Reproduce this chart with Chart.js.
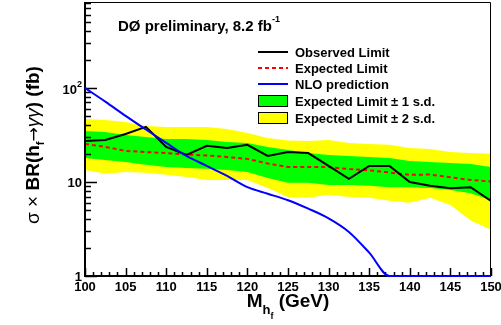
<!DOCTYPE html>
<html>
<head>
<meta charset="utf-8">
<script src="https://cdn.jsdelivr.net/npm/chart.js@4.4.1/dist/chart.umd.min.js"></script>
<style>
  html, body { margin: 0; padding: 0; background: #fff; }
  canvas { display: block; }
</style>
</head>
<body>
<canvas id="limitChart" width="501" height="325"></canvas>
<script>
// Higgs mass points (GeV)
const massPoints = [100, 102.5, 105, 107.5, 110, 112.5, 115, 117.5, 120, 122.5, 125,
                    127.5, 130, 132.5, 135, 137.5, 140, 142.5, 145, 147.5, 150];

// sigma x BR limits (fb)
const observedLimit = [27.3, 28.0, 32.4, 38.5, 23.6, 19.4, 24.2, 23.0, 24.8, 18.9, 20.8,
                       20.3, 14.8, 10.8, 14.8, 14.8, 10.0, 9.1, 8.6, 8.8, 6.3];
const expectedLimit = [25.4, 23.6, 21.4, 20.8, 20.3, 19.6, 19.1, 18.4, 17.6, 15.7, 14.4,
                       14.4, 14.4, 13.7, 13.3, 12.6, 11.9, 12.0, 11.2, 10.5, 10.1];
const oneSigmaUp   = [34.9, 34.0, 31.6, 30.1, 28.7, 28.7, 28.0, 26.6, 26.0, 23.6, 21.9,
                      20.3, 19.4, 18.9, 18.4, 18.0, 16.7, 16.3, 15.9, 15.5, 14.4];
const oneSigmaDown = [18.0, 17.1, 16.3, 15.2, 14.4, 14.1, 13.8, 13.4, 12.8, 11.0, 9.8,
                      9.8, 9.3, 9.3, 9.1, 8.8, 8.8, 8.6, 8.2, 7.6, 6.4];
const twoSigmaUp   = [46.8, 45.7, 43.5, 39.4, 38.5, 38.5, 38.5, 36.6, 33.2, 29.4, 27.6,
                      27.3, 28.0, 26.0, 25.4, 24.8, 23.0, 22.4, 20.8, 20.3, 19.9];
const twoSigmaDown = [13.4, 12.2, 12.8, 12.5, 11.9, 11.3, 10.5, 10.5, 10.5, 8.6, 6.9,
                      6.8, 7.3, 6.9, 6.8, 6.3, 6.0, 6.8, 5.7, 3.9, 3.1];
// NLO prediction, sits on the axis floor once it drops below 1 fb
const nloPrediction = [100, 71.5, 50.4, 36.1, 26.0, 18.9, 14.8, 11.6, 8.8, 7.5, 6.4,
                       5.2, 4.1, 2.94, 1.77, 1, 1, 1, 1, 1, 1];

const xMajorTicks = [100, 105, 110, 115, 120, 125, 130, 135, 140, 145, 150];
const yDecades = [1, 10, 100];
const legendLabels = ['Observed Limit', 'Expected Limit', 'NLO prediction',
                      'Expected Limit \u00b1 1 s.d.', 'Expected Limit \u00b1 2 s.d.'];

const GREEN = '#00ff00';
const YELLOW = '#ffff00';
const FONT = '"Liberation Sans", Arial, Helvetica, sans-serif';

function toPoints(values) {
    return massPoints.map((m, i) => ({ x: m, y: values[i] }));
}

function bandSet(values, color, fill, order) {
    return {
        data: toPoints(values),
        borderWidth: 0,
        borderColor: color,
        backgroundColor: color,
        pointRadius: 0,
        tension: 0,
        fill: fill,
        order: order
    };
}

// draw a list of text pieces with different fonts one after another, centred
function drawRuns(ctx, runs, x, y, angle) {
    let total = 0;
    runs.forEach(r => { ctx.font = r.font; total += ctx.measureText(r.text).width; });
    ctx.save();
    ctx.translate(x, y);
    ctx.rotate(angle);
    ctx.textAlign = 'left';
    ctx.textBaseline = 'alphabetic';
    let cx = -total / 2;
    runs.forEach(r => {
        ctx.font = r.font;
        ctx.fillText(r.text, cx, r.dy || 0);
        cx += ctx.measureText(r.text).width;
    });
    ctx.restore();
}

// ROOT-like frame with ticks pointing into the plot
function drawFrame(chart) {
    const ctx = chart.ctx, a = chart.chartArea;
    const xs = chart.scales.x, ys = chart.scales.y;
    ctx.save();
    ctx.fillStyle = '#000';
    ctx.strokeStyle = '#000';
    ctx.lineWidth = 1;
    ctx.beginPath();
    ctx.moveTo(a.left, a.top + 0.5);
    ctx.lineTo(a.right - 0.5, a.top + 0.5);
    ctx.lineTo(a.right - 0.5, a.bottom);
    ctx.stroke();
    ctx.fillRect(a.left - 1, a.top, 2, a.bottom - a.top + 1);
    ctx.fillRect(a.left - 1, a.bottom - 1, a.right - a.left + 1, 2);

    // y ticks
    ctx.lineWidth = 1.5;
    ctx.beginPath();
    yDecades.forEach(d => {
        for (let k = 1; k <= 9; k++) {
            const v = d * k;
            if (v > ys.max) break;
            const py = Math.round(ys.getPixelForValue(v)) + 0.5;
            const len = k === 1 ? 12 : 6;
            ctx.moveTo(a.left, py);
            ctx.lineTo(a.left + len, py);
        }
    });
    // x ticks
    for (let m = xs.min; m <= xs.max; m++) {
        const px = Math.round(xs.getPixelForValue(m)) + 0.5;
        const len = m % 5 === 0 ? 8 : 4;
        ctx.moveTo(px, a.bottom);
        ctx.lineTo(px, a.bottom - len);
    }
    ctx.stroke();
    ctx.restore();
}

const rootStyle = {
    id: 'rootStyle',
    beforeDatasetDraw(chart, args) {
        // frame goes on top of bands and limits, under the NLO curve
        if (args.index === chart.data.datasets.length - 1) drawFrame(chart);
    },
    afterDraw(chart) {
        const ctx = chart.ctx, a = chart.chartArea;
        const xs = chart.scales.x, ys = chart.scales.y;
        const ds = chart.data.datasets;
        ctx.save();
        ctx.fillStyle = '#000';

        // x tick labels
        ctx.font = 'bold 13px ' + FONT;
        ctx.textAlign = 'center';
        ctx.textBaseline = 'middle';
        xMajorTicks.forEach(m => ctx.fillText(String(m), xs.getPixelForValue(m), 287));

        // y tick labels
        ctx.textAlign = 'right';
        ctx.fillText('1', a.left - 3, ys.getPixelForValue(1) + 1);
        ctx.fillText('10', a.left - 3, ys.getPixelForValue(10) + 1);
        const y100 = ys.getPixelForValue(100);
        ctx.fillText('10', a.left - 8, y100 + 2);
        ctx.textAlign = 'left';
        ctx.font = 'bold 9px ' + FONT;
        ctx.fillText('2', a.left - 8, y100 - 3);

        // axis titles
        drawRuns(ctx, [
            { text: 'M', font: 'bold 19px ' + FONT },
            { text: 'h', font: 'bold 13px ' + FONT, dy: 7 },
            { text: 'f', font: 'bold 9px ' + FONT, dy: 12 },
            { text: ' (GeV)', font: 'bold 19px ' + FONT }
        ], 288, 307, 0);
        drawRuns(ctx, [
            { text: '\u03c3 \u00d7 ', font: '19px ' + FONT },
            { text: 'BR(h', font: 'bold 19px ' + FONT },
            { text: 'f', font: 'bold 11px ' + FONT, dy: 5 },
            { text: '\u2192', font: '17px "DejaVu Sans", sans-serif' },
            { text: '\u03b3\u03b3', font: 'italic 19px ' + FONT },
            { text: ') (fb)', font: 'bold 19px ' + FONT }
        ], 39, 145, -Math.PI / 2);

        // experiment label
        ctx.textAlign = 'left';
        ctx.textBaseline = 'alphabetic';
        ctx.font = 'bold 15px ' + FONT;
        const label = 'D\u00d8 preliminary, 8.2 fb';
        ctx.fillText(label, 118, 31);
        const lw = ctx.measureText(label).width;
        ctx.font = 'bold 9px ' + FONT;
        ctx.fillText('-1', 118 + lw, 22);

        // legend
        const lx0 = 258, lx1 = 288, tx = 295;
        const rows = [52, 68, 84, 101, 118];
        ctx.font = 'bold 13px ' + FONT;
        ctx.textBaseline = 'middle';
        const lineSets = [ds[5], ds[4], ds[6]];
        lineSets.forEach((d, i) => {
            ctx.save();
            ctx.strokeStyle = d.borderColor;
            ctx.lineWidth = Math.min(d.borderWidth, 2);
            ctx.setLineDash(d.borderDash || []);
            ctx.beginPath();
            ctx.moveTo(lx0, rows[i]);
            ctx.lineTo(lx1, rows[i]);
            ctx.stroke();
            ctx.restore();
        });
        [[ds[2].backgroundColor, rows[3]], [ds[0].backgroundColor, rows[4]]].forEach(([c, ry]) => {
            ctx.fillStyle = c;
            ctx.fillRect(lx0, ry - 6, lx1 - lx0, 12);
            ctx.strokeStyle = '#000';
            ctx.lineWidth = 1;
            ctx.strokeRect(lx0 + 0.5, ry - 5.5, lx1 - lx0 - 1, 11);
        });
        ctx.fillStyle = '#000';
        legendLabels.forEach((t, i) => ctx.fillText(t, tx, rows[i] + 1));
        ctx.restore();
    }
};

function createLimitChart() {
    const ctx = document.getElementById('limitChart').getContext('2d');
    return new Chart(ctx, {
        type: 'line',
        data: {
            datasets: [
                bandSet(twoSigmaUp, YELLOW, '+1', 10),
                bandSet(twoSigmaDown, YELLOW, false, 10),
                bandSet(oneSigmaUp, GREEN, '+1', 8),
                bandSet(oneSigmaDown, GREEN, false, 8),
                {
                    data: toPoints(expectedLimit),
                    borderColor: '#ff0000',
                    borderWidth: 2,
                    borderDash: [4, 3],
                    pointRadius: 0,
                    tension: 0,
                    fill: false,
                    order: 3
                },
                {
                    data: toPoints(observedLimit),
                    borderColor: '#000000',
                    borderWidth: 2,
                    pointRadius: 0,
                    tension: 0,
                    fill: false,
                    order: 2
                },
                {
                    data: toPoints(nloPrediction),
                    borderColor: '#0000ff',
                    borderWidth: 2,
                    pointRadius: 0,
                    cubicInterpolationMode: 'monotone',
                    fill: false,
                    clip: false,
                    order: 1
                }
            ]
        },
        options: {
            responsive: false,
            animation: false,
            layout: { padding: { left: 85, top: 2, right: 10, bottom: 49 } },
            plugins: { legend: { display: false }, tooltip: { enabled: false } },
            scales: {
                x: { type: 'linear', min: 100, max: 150, display: false },
                y: { type: 'logarithmic', min: 1, max: 820, display: false }
            }
        },
        plugins: [rootStyle]
    });
}

createLimitChart();
</script>
</body>
</html>
